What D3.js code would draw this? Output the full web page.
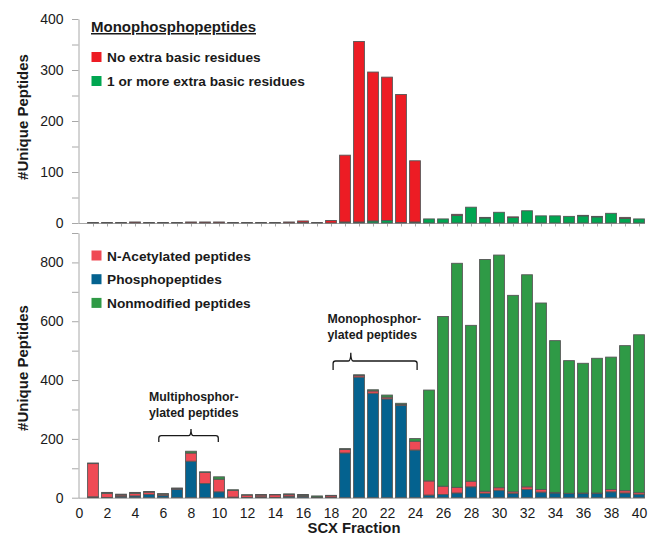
<!DOCTYPE html>
<html>
<head>
<meta charset="utf-8">
<script src="https://cdn.jsdelivr.net/npm/d3@7/dist/d3.min.js"></script>
<style>
  html, body { margin: 0; padding: 0; background: #fff; }
  svg { display: block; font-family: "Liberation Sans", Arial, sans-serif; }
</style>
</head>
<body>
<svg id="chart" width="650" height="536"></svg>
<script>
// SCX fractions
const fractions = [1,2,3,4,5,6,7,8,9,10,11,12,13,14,15,16,17,18,19,20,
                   21,22,23,24,25,26,27,28,29,30,31,32,33,34,35,36,37,38,39,40];

// Upper panel: monophosphopeptides
const monoNoBasic = [1,1,1,2,1,1,1,2,2,2,1,1,1,1,2,3,1,5,131,354,
                     292,281,251,120,0,0,2,0,1,0,1,0,0,0,0,1,1,0,2,0];
const monoBasic   = [0,0,0,0,0,0,0,0,0,0,0,0,0,0,0,1,0,0,2,2,
                     4,5,1,2,8,8,15,31,10,21,11,24,14,14,13,14,12,19,9,8];

// Lower panel: all unique peptides by modification
const phospho     = [3,1,4,6,11,7,29,124,48,20,2,1,3,1,4,4,1,2,152,410,
                     355,336,314,162,9,11,16,37,15,25,14,28,19,16,14,14,14,20,16,11];
const nAcetyl     = [113,14,5,9,8,5,2,28,38,43,23,8,6,9,6,4,1,5,12,5,
                     8,6,3,30,48,28,19,19,7,9,6,9,9,2,1,2,2,8,8,6];
const nonmodified = [2,3,3,3,2,2,2,6,2,8,2,1,2,1,3,3,4,1,3,3,
                     4,7,4,9,309,577,762,530,788,791,668,721,634,516,451,441,458,450,493,537];

const topTicks = [0,100,200,300,400];
const bottomTicks = [0,200,400,600,800];
const xTickLabels = [0,2,4,6,8,10,12,14,16,18,20,22,24,26,28,30,32,34,36,38,40];

const svg = d3.select("#chart");
const AXIS = "#a8a8a8", INK = "#1a1a1a", EDGE = "#555";
const barW = 10.8;

const x = d3.scaleLinear().domain([0, 40]).range([79, 639]);
const yTop = d3.scaleLinear().domain([0, 400]).range([223, 19]);
const yBot = d3.scaleLinear().domain([0, 900]).range([497.7, 233]);

function styleAxis(g) {
  g.select(".domain").attr("stroke", AXIS).attr("stroke-width", 1);
  g.selectAll(".tick line").attr("stroke", AXIS).attr("stroke-width", 1);
  g.selectAll(".tick text").attr("fill", INK).style("font-size", "14px")
    .style("font-family", "'Liberation Sans', Arial, sans-serif");
}

function yAxis(scale, minorStep, labels) {
  const [lo, hi] = scale.domain();
  const minor = d3.range(lo, hi + 1e-9, minorStep);
  svg.append("g").attr("transform", "translate(78.5,0)")
    .call(d3.axisLeft(scale).tickValues(minor).tickSize(6.5).tickSizeOuter(0)
      .tickPadding(8.5).tickFormat(d => labels.includes(d) ? d : ""))
    .call(styleAxis);
}

function xAxisLine(scale) {
  svg.append("line").attr("x1", 78.5).attr("x2", 645)
    .attr("y1", scale(0) + 0.5).attr("y2", scale(0) + 0.5)
    .attr("stroke", AXIS).attr("stroke-width", 1);
}

// ---------- upper panel ----------
yAxis(yTop, 50, topTicks);
xAxisLine(yTop);
svg.append("g").selectAll("line").data(fractions).join("line")
  .attr("x1", d => x(d) + 0.5).attr("x2", d => x(d) + 0.5)
  .attr("y1", yTop(0) + 0.5).attr("y2", yTop(0) + 3.5)
  .attr("stroke", AXIS);

const topStack = d3.stack().keys(["basic", "noBasic"])(
  fractions.map((f, i) => ({ f, basic: monoBasic[i], noBasic: monoNoBasic[i] })));
const topColors = { basic: "#00a651", noBasic: "#ed1c24" };
topStack.forEach(layer => {
  svg.append("g").selectAll("rect")
    .data(layer.filter(d => d[1] - d[0] > 0)).join("rect")
    .attr("x", d => x(d.data.f) - barW / 2)
    .attr("width", barW)
    .attr("y", d => yTop(d[1]))
    .attr("height", d => yTop(d[0]) - yTop(d[1]))
    .attr("fill", topColors[layer.key])
    .attr("stroke", EDGE).attr("stroke-width", 0.9);
});

// ---------- lower panel ----------
yAxis(yBot, 100, bottomTicks);
xAxisLine(yBot);
svg.append("g").attr("transform", `translate(0,${yBot(0) + 0.5})`)
  .call(d3.axisBottom(x).tickValues(xTickLabels).tickSize(0).tickPadding(9.5)
    .tickFormat(d3.format("d")))
  .call(g => g.select(".domain").remove())
  .call(styleAxis);

const botStack = d3.stack().keys(["phospho", "nAcetyl", "nonmodified"])(
  fractions.map((f, i) => ({ f, phospho: phospho[i], nAcetyl: nAcetyl[i], nonmodified: nonmodified[i] })));
const botColors = { phospho: "#04628f", nAcetyl: "#ef4a55", nonmodified: "#2f9a46" };
botStack.forEach(layer => {
  svg.append("g").selectAll("rect")
    .data(layer.filter(d => d[1] - d[0] > 0)).join("rect")
    .attr("x", d => x(d.data.f) - barW / 2)
    .attr("width", barW)
    .attr("y", d => yBot(d[1]))
    .attr("height", d => yBot(d[0]) - yBot(d[1]))
    .attr("fill", botColors[layer.key])
    .attr("stroke", EDGE).attr("stroke-width", 0.9);
});

// ---------- axis titles ----------
svg.append("text").attr("transform", "translate(28,117) rotate(-90)")
  .attr("text-anchor", "middle").attr("font-weight", "bold")
  .style("font-size", "15px").attr("fill", INK).text("#Unique Peptides");
svg.append("text").attr("transform", "translate(28,368) rotate(-90)")
  .attr("text-anchor", "middle").attr("font-weight", "bold")
  .style("font-size", "15px").attr("fill", INK).text("#Unique Peptides");
svg.append("text").attr("x", 354).attr("y", 533)
  .attr("text-anchor", "middle").attr("font-weight", "bold")
  .style("font-size", "14.8px").attr("fill", INK).text("SCX Fraction");

// ---------- legends ----------
svg.append("text").attr("x", 91).attr("y", 32).attr("font-weight", "bold")
  .attr("text-decoration", "underline")
  .style("font-size", "15px").attr("fill", INK).text("Monophosphopeptides");

function legend(items, y0, step) {
  items.forEach((it, i) => {
    const y = y0 + i * step;
    svg.append("rect").attr("x", 91.5).attr("y", y - 10).attr("width", 10).attr("height", 10)
      .attr("fill", it.color);
    svg.append("text").attr("x", 107).attr("y", y).attr("font-weight", "bold")
      .style("font-size", "13.7px").attr("fill", INK).text(it.label);
  });
}
legend([
  { label: "No extra basic residues", color: topColors.noBasic },
  { label: "1 or more extra basic residues", color: topColors.basic }
], 62, 24);
legend([
  { label: "N-Acetylated peptides", color: botColors.nAcetyl },
  { label: "Phosphopeptides", color: botColors.phospho },
  { label: "Nonmodified peptides", color: botColors.nonmodified }
], 260.5, 23.7);

// ---------- bracket annotations ----------
function bracket(x1, x2, yLine, yEnds, xc, yTip) {
  const r = 2.5;
  const p = d3.path();
  p.moveTo(x1, yEnds);
  p.lineTo(x1, yLine + r);
  p.quadraticCurveTo(x1, yLine, x1 + r, yLine);
  p.lineTo(xc - r, yLine);
  p.quadraticCurveTo(xc, yLine, xc, yTip);
  p.quadraticCurveTo(xc, yLine, xc + r, yLine);
  p.lineTo(x2 - r, yLine);
  p.quadraticCurveTo(x2, yLine, x2, yLine + r);
  p.lineTo(x2, yEnds);
  svg.append("path").attr("d", p.toString()).attr("fill", "none")
    .attr("stroke", INK).attr("stroke-width", 1.3);
}
function note(lines, xLeft, yFirst) {
  lines.forEach((t, i) => {
    svg.append("text").attr("x", xLeft).attr("y", yFirst + i * 16)
      .attr("font-weight", "bold").style("font-size", "12.3px").attr("fill", INK).text(t);
  });
}
note(["Multiphosphor-", "ylated peptides"], 149, 400.5);
bracket(x(5.7), x(9.95), 435.7, 442, x(8.0), 429);
note(["Monophosphor-", "ylated peptides"], 327.5, 323.3);
bracket(x(18.15), x(24.15), 361, 370, x(19.4) + 0.2, 352.7);
</script>
</body>
</html>
